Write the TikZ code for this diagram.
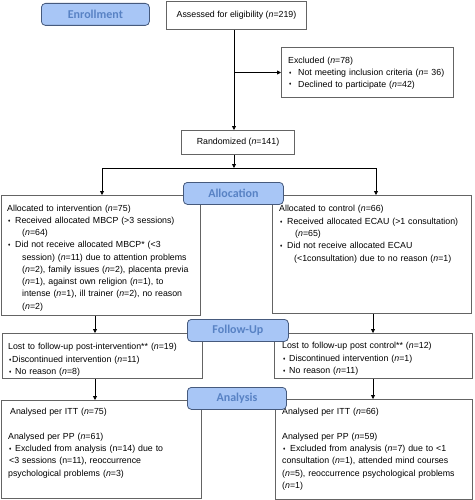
\documentclass[tikz,border=0pt]{standalone}
\usepackage{fontspec}
\setmainfont{Liberation Sans}
\newfontfamily\labfont{Carlito}
\usetikzlibrary{arrows.meta}
\definecolor{labfill}{RGB}{168,198,246}
\definecolor{labdraw}{RGB}{70,90,125}
\definecolor{labtext}{RGB}{88,130,196}
\definecolor{boxdraw}{RGB}{100,100,100}
\newcommand\Nit{\textit{n}}
\newcommand\bul{\raisebox{1.1pt}{\fontsize{4.5}{5}\selectfont ♦}}
\newcommand\bi[1]{\makebox[#1][l]{\hspace{1pt}\bul}}
\newcommand\fr{\rule{0pt}{9pt}}
\begin{document}
\begin{tikzpicture}[x=1pt,y=-1pt,
 box/.style={draw=boxdraw, line width=1pt, inner sep=0pt, anchor=north west, fill=white, font=\fontsize{8.8}{12.4}\selectfont},
 lab/.style={draw=labdraw, line width=0.8pt, fill=labfill, rounded corners=4pt, anchor=north west, inner sep=0pt, text=labtext, font=\labfont\bfseries\fontsize{12}{14}\selectfont},
 txt/.style={anchor=north west, inner sep=0pt, align=left, text width=240pt, font=\fontsize{8.8}{12.4}\selectfont},
 arr/.style={-{Triangle[length=4pt,width=4pt]}, line width=0.8pt},
 ln/.style={line width=0.8pt}]
\useasboundingbox (0,0) rectangle (474,500);
% boxes
\node[box, minimum width=140pt, minimum height=28pt] (ass) at (166,1) {Assessed for eligibility (\Nit=219)};
\node[box, minimum width=172pt, minimum height=50pt] (exc) at (281,47) {};
\node[box, minimum width=113pt, minimum height=24pt] (rand) at (181,130) {Randomized (\Nit=141)};
\node[box, minimum width=199pt, minimum height=120pt] (la) at (1,195) {};
\node[box, minimum width=199pt, minimum height=118pt] (ra) at (272,195) {};
\node[box, minimum width=200pt, minimum height=45pt] (lf) at (2,333) {};
\node[box, minimum width=198pt, minimum height=45pt] (rf) at (274,333) {};
\node[box, minimum width=200pt, minimum height=98pt] (lan) at (1,400) {};
\node[box, minimum width=197pt, minimum height=100pt] (ran) at (275,399) {};
% texts
\node[txt, font=\fontsize{8.8}{11.7}\selectfont] (excT) at (288,54.5) {\fr Excluded (\Nit=78)\\
\bi{10pt}Not meeting inclusion criteria (\Nit= 36)\\
\bi{10pt}Declined to participate (\Nit=42)};
\node[txt, font=\fontsize{8.8}{12.25}\selectfont] (laT) at (7,202) {\fr Allocated to intervention (\Nit=75)\\
\bi{8pt}Received allocated MBCP (>3 sessions)\\
\hspace{15pt}(\Nit=64)\\
\bi{8pt}Did not receive allocated MBCP* (<3\\
\hspace{15pt}session) (\Nit=11) due to attention problems\\
\hspace{15pt}(\Nit=2), family issues (\Nit=2), placenta previa\\
\hspace{15pt}(\Nit=1), against own religion (\Nit=1), to\\
\hspace{15pt}intense (\Nit=1), ill trainer (\Nit=2), no reason\\
\hspace{15pt}(\Nit=2)};
\node[txt] (raT) at (279,202.5) {\fr Allocated to control (\Nit=66)\\
\bi{8pt}Received allocated ECAU (>1 consultation)\\
\hspace{16pt}(\Nit=65)\\
\bi{8pt}Did not receive allocated ECAU\\
\hspace{15pt}(<1consultation) due to no reason (\Nit=1)};
\node[txt] (lfT) at (8,340.5) {\fr Lost to follow-up post-intervention** (\Nit=19)\\
\bi{4pt}Discontinued intervention (\Nit=11)\\
\bi{7pt}No reason (\Nit=8)};
\node[txt] (rfT) at (282,339.5) {\fr Lost to follow-up post control** (\Nit=12)\\
\bi{7pt}Discontinued intervention (\Nit=1)\\
\bi{7pt}No reason (\Nit=11)};
\node[txt] (lanT) at (8,405) {\fr\hspace{2pt}Analysed per ITT (\Nit=75)\\[12.4pt]
Analysed per PP (\Nit=61)\\
\bi{7pt}Excluded from analysis (n=14) due to\\
\hspace{1pt}<3 sessions (n=11), reoccurrence\\
psychological problems (\Nit=3)};
\node[txt] (ranT) at (282,405) {\fr Analysed per ITT (\Nit=66)\\[12.4pt]
Analysed per PP (\Nit=59)\\
\bi{8pt}Excluded from analysis (\Nit=7) due to <1\\
consultation (\Nit=1), attended mind courses\\
(\Nit=5), reoccurrence psychological problems\\
(\Nit=1)};
% connectors
\coordinate (cx) at (234,0);
\coordinate (sp) at (234,168);
\coordinate (spL) at (102,168);
\coordinate (spR) at (376,168);
\coordinate (cl) at (95,0);
\coordinate (cr) at (373,0);
\draw[arr] (cx |- ass.south) -- (cx |- rand.north);
\draw[arr] (cx |- exc.west) -- (exc.west);
\draw[arr] (cx |- rand.south) -- (sp);
\draw[ln] (spL) -- (spR);
\draw[arr] (spL) -- (spL |- la.north);
\draw[arr] (spR) -- (spR |- ra.north);
\draw[arr] (cl |- la.south) -- (cl |- lf.north);
\draw[arr] (cr |- ra.south) -- (cr |- rf.north);
\draw[arr] (cl |- lf.south) -- (cl |- lan.north);
\draw[arr] (cr |- rf.south) -- (cr |- ran.north);
% labels
\node[lab, minimum width=108pt, minimum height=22pt] (enr) at (41,3) {Enrollment};
\node[lab, minimum width=100pt, minimum height=22pt] (alo) at (183,182) {Allocation};
\node[lab, minimum width=101pt, minimum height=22pt] (fu) at (187,319) {Follow-Up};
\node[lab, minimum width=99pt, minimum height=22pt] (an) at (187,387) {Analysis};
\end{tikzpicture}
\end{document}
